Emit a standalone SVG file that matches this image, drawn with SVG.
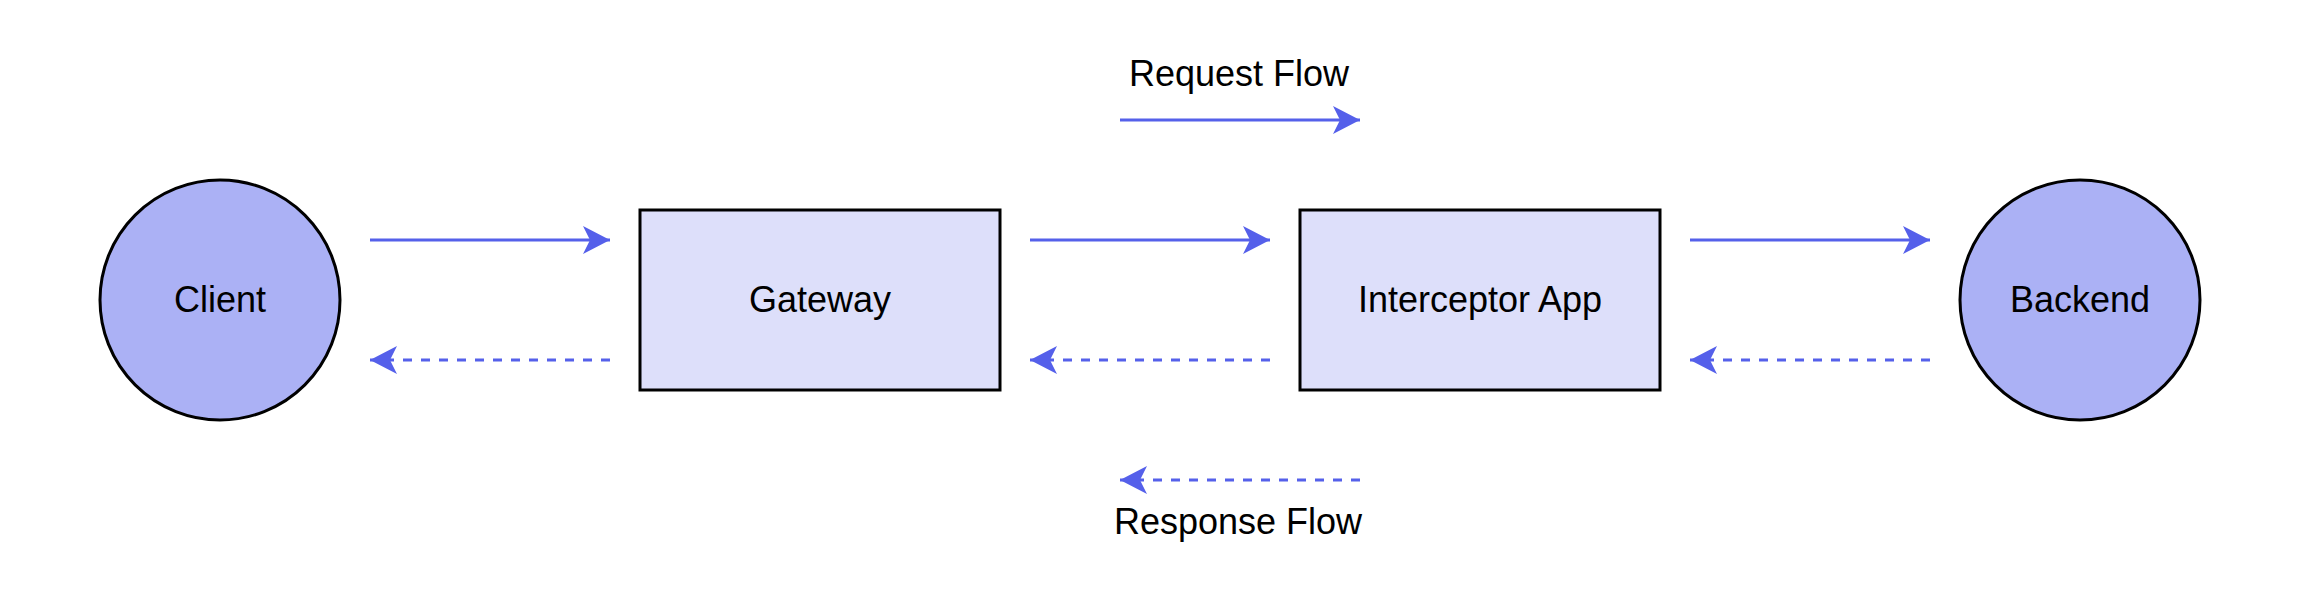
<svg xmlns="http://www.w3.org/2000/svg" width="2300" height="600" viewBox="0 0 2300 600">
<style>
.lbl{font-family:"Liberation Sans",Arial,sans-serif;font-size:36px;fill:#000;text-anchor:middle}
.circ{fill:#ABB1F5;stroke:#000;stroke-width:3}
.box{fill:#DDDFFA;stroke:#000;stroke-width:3}
.req{stroke:#5560EA;stroke-width:3;fill:none;marker-end:url(#ah)}
.resp{stroke:#5560EA;stroke-width:3;fill:none;stroke-dasharray:9 9;marker-end:url(#ah)}
</style>
<defs>
<marker id="ah" markerUnits="userSpaceOnUse" viewBox="0 0 28 28" markerWidth="28" markerHeight="28" refX="27" refY="14" orient="auto">
<path d="M0,0 L27,14 L0,28 L7,14 Z" fill="#5560EA"/>
</marker>
</defs>
<rect width="2300" height="600" fill="#fff"/>
<g id="client"><circle class="circ" cx="220" cy="300" r="120"/><text class="lbl" x="220" y="312">Client</text></g>
<g id="gateway"><rect class="box" x="640" y="210" width="360" height="180"/><text class="lbl" x="820" y="312">Gateway</text></g>
<g id="interceptor"><rect class="box" x="1300" y="210" width="360" height="180"/><text class="lbl" x="1480" y="312">Interceptor App</text></g>
<g id="backend"><circle class="circ" cx="2080" cy="300" r="120"/><text class="lbl" x="2080" y="312">Backend</text></g>
<g id="legend">
<text class="lbl" x="1239" y="86">Request Flow</text>
<text class="lbl" x="1238" y="534">Response Flow</text>
</g>
<g id="connectors">
<line class="req" x1="370" y1="240" x2="610" y2="240"/>
<line class="req" x1="1030" y1="240" x2="1270" y2="240"/>
<line class="req" x1="1690" y1="240" x2="1930" y2="240"/>
<line class="resp" x1="610" y1="360" x2="370" y2="360"/>
<line class="resp" x1="1270" y1="360" x2="1030" y2="360"/>
<line class="resp" x1="1930" y1="360" x2="1690" y2="360"/>
<line class="req" x1="1120" y1="120" x2="1360" y2="120"/>
<line class="resp" x1="1360" y1="480" x2="1120" y2="480"/>
</g>
</svg>
